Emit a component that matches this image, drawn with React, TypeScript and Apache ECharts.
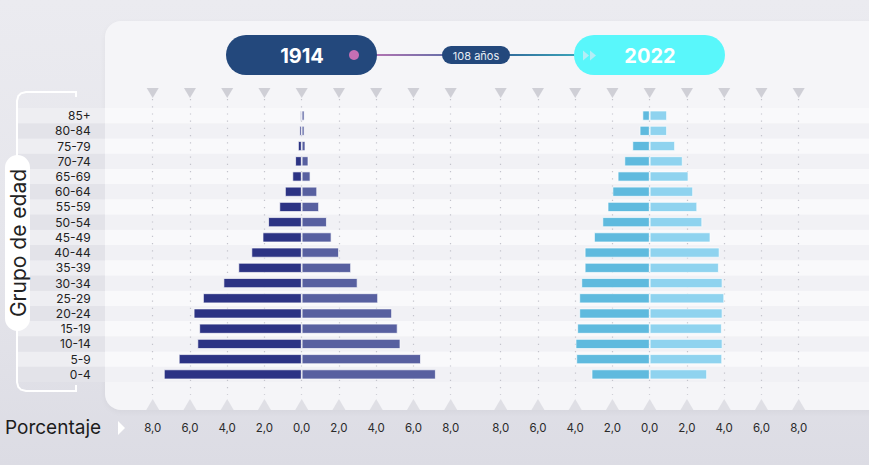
import React, { useEffect, useRef } from "react";
import * as echarts from "echarts";

const categories = ["0-4","5-9","10-14","15-19","20-24","25-29","30-34","35-39","40-44","45-49","50-54","55-59","60-64","65-69","70-74","75-79","80-84","85+"];
const left1914 = [7.4, 6.6, 5.6, 5.5, 5.8, 5.3, 4.2, 3.4, 2.7, 2.1, 1.8, 1.2, 0.9, 0.5, 0.35, 0.2, 0.12, 0.08];
const right1914 = [7.2, 6.4, 5.3, 5.15, 4.85, 4.1, 3.0, 2.65, 2.0, 1.6, 1.35, 0.93, 0.83, 0.47, 0.36, 0.2, 0.15, 0.15];
const left2022 = [3.12, 3.94, 3.98, 3.89, 3.78, 3.78, 3.67, 3.49, 3.49, 2.99, 2.54, 2.26, 2.0, 1.72, 1.36, 0.93, 0.54, 0.39];
const right2022 = [3.08, 3.89, 3.91, 3.87, 3.91, 4.0, 3.91, 3.71, 3.75, 3.26, 2.82, 2.55, 2.33, 2.08, 1.77, 1.36, 0.93, 0.93];
const xTicks = [-8, -6, -4, -2, 0, 2, 4, 6, 8];
const yearA = "1914";
const yearB = "2022";
const gapLabel = "108 años";
const yTitle = "Grupo de edad";
const xTitle = "Porcentaje";

const FONT = 'Inter, "Open Sans", sans-serif';

export default function App() {
  const ref = useRef<HTMLDivElement>(null);
  useEffect(() => {
    if (!ref.current) return;
    const chart = echarts.init(ref.current, undefined, { renderer: "svg" });
    const fmt = (v: number) => Math.abs(v).toFixed(1).replace(".", ",");
    const barGrids = [
      { left: 152.7, width: 298, top: 108, height: 274 },
      { left: 500.7, width: 298, top: 108, height: 274 },
    ];
    const lineGrids = [
      { left: 152.7, width: 298, top: 99, height: 296 },
      { left: 500.7, width: 298, top: 99, height: 296 },
    ];
    const stripeGrids = [
      { left: 105, width: 764, top: 108, height: 274 },
      { left: 18, width: 87, top: 108, height: 274 },
    ];
    const grids = [...barGrids, ...lineGrids, ...stripeGrids];
    const xAxis: any[] = [];
    const yAxis: any[] = [];
    for (let i = 0; i < 2; i++) {
      xAxis.push({ gridIndex: i, type: "value", min: -8, max: 8, interval: 2, show: false });
      yAxis.push({
        gridIndex: i, type: "category", data: categories,
        axisLine: { show: false }, axisTick: { show: false }, splitLine: { show: false },
        axisLabel: i === 0 ? { show: true, interval: 0, margin: 62, fontSize: 12, lineHeight: 13, color: "#222", fontFamily: FONT } : { show: false },
      });
    }
    for (let i = 2; i < 4; i++) {
      xAxis.push({
        gridIndex: i, type: "value", min: -8, max: 8, interval: 2, z: 1,
        axisLine: { show: false }, axisTick: { show: false },
        splitLine: { show: true, lineStyle: { color: "#c4c4cc", width: 1.2, type: [1.2, 6] } },
        axisLabel: { show: true, margin: 27, fontSize: 11.5, color: "#2a2a2a", fontFamily: FONT, formatter: fmt },
      });
      yAxis.push({ gridIndex: i, type: "value", min: 0, max: 1, show: false });
    }
    const stripeColors = [["#f1f1f5", "#f9f9fb"], ["#e3e3e9", "#eeeef2"]];
    for (let i = 4; i < 6; i++) {
      xAxis.push({ gridIndex: i, type: "value", min: 0, max: 1, show: false });
      yAxis.push({
        gridIndex: i, type: "category", data: categories, z: 0,
        axisLine: { show: false }, axisTick: { show: false, interval: 0 }, axisLabel: { show: false, interval: 0 }, splitLine: { show: false },
        splitArea: { show: true, interval: 0, areaStyle: { color: stripeColors[i - 4] } },
      });
    }
    const barBase = { type: "bar", barWidth: 10, silent: true, itemStyle: { borderColor: "rgba(255,255,255,0.85)", borderWidth: 0.8 } };
    const series: any[] = [
      { ...barBase, name: yearA + " H", xAxisIndex: 0, yAxisIndex: 0, stack: "a", data: left1914.map((v) => -v), itemStyle: { ...barBase.itemStyle, color: "#2c3384" } },
      { ...barBase, name: yearA + " M", xAxisIndex: 0, yAxisIndex: 0, stack: "a", data: right1914, itemStyle: { ...barBase.itemStyle, color: "#5860a0" } },
      { ...barBase, name: yearB + " H", xAxisIndex: 1, yAxisIndex: 1, stack: "b", data: left2022.map((v) => -v), itemStyle: { ...barBase.itemStyle, color: "#5fbade" } },
      { ...barBase, name: yearB + " M", xAxisIndex: 1, yAxisIndex: 1, stack: "b", data: right2022, itemStyle: { ...barBase.itemStyle, color: "#8fd3ef" } },
    ];
    for (let g = 2; g < 4; g++) {
      series.push({
        type: "scatter", xAxisIndex: g, yAxisIndex: g, silent: true, clip: false, z: 3,
        symbol: "triangle", symbolRotate: 180, symbolSize: [12, 10], symbolOffset: [0, -6],
        itemStyle: { color: "#c6c6cd" },
        data: xTicks.map((t) => [t, 1]),
      });
      series.push({
        type: "scatter", xAxisIndex: g, yAxisIndex: g, silent: true, clip: false, z: 3,
        symbol: "triangle", symbolSize: [13, 11], symbolOffset: [0, 9.5],
        itemStyle: { color: "#d9d9e0" },
        data: xTicks.map((t) => [t, 0]),
      });
    }
    const graphic: any[] = [
      { type: "polyline", shape: { points: [[76, 97], [76, 92], [26, 92], [21, 93.3], [18.3, 96], [17, 101], [17, 160]] }, style: { stroke: "#ffffff", lineWidth: 2, fill: null } },
      { type: "polyline", shape: { points: [[17, 325], [17, 382], [18.3, 387], [21, 389.7], [26, 391], [76, 391], [76, 385]] }, style: { stroke: "#ffffff", lineWidth: 2, fill: null } },
      { type: "rect", shape: { x: 5, y: 155, width: 25, height: 176, r: 12.5 }, style: { fill: "#ffffff" } },
      { type: "text", x: 18, y: 243, rotation: Math.PI / 2, style: { text: yTitle, fontSize: 21, fontFamily: FONT, fill: "#222", align: "center", verticalAlign: "middle" } },
      { type: "text", x: 5, y: 427, style: { text: xTitle, fontSize: 19, fontFamily: FONT, fill: "#1c1c1c", align: "left", verticalAlign: "middle" } },
      { type: "polygon", shape: { points: [[118, 421], [125, 428], [118, 435]] }, style: { fill: "#ffffff" } },
      { type: "rect", shape: { x: 354, y: 54, width: 222, height: 2 }, style: { fill: new echarts.graphic.LinearGradient(0, 0, 1, 0, [
        { offset: 0, color: "#c874b4" }, { offset: 0.4, color: "#6b6fa9" }, { offset: 0.6, color: "#2f5d93" }, { offset: 1, color: "#3ba3b9" },
      ]) } },
      { type: "rect", shape: { x: 226, y: 35, width: 151, height: 40, r: 20 }, style: { fill: "#23487c" } },
      { type: "text", x: 302, y: 56, style: { text: yearA, fontSize: 20, fontWeight: "bold", fontFamily: FONT, fill: "#ffffff", align: "center", verticalAlign: "middle" } },
      { type: "circle", shape: { cx: 354, cy: 55, r: 5 }, style: { fill: "#c46fb4" } },
      { type: "rect", shape: { x: 442, y: 46, width: 68, height: 18, r: 9 }, style: { fill: "#23487c" } },
      { type: "text", x: 476, y: 55.5, style: { text: gapLabel, fontSize: 11, fontFamily: FONT, fill: "#e6edf5", align: "center", verticalAlign: "middle" } },
      { type: "rect", shape: { x: 574, y: 35, width: 151, height: 40, r: 20 }, style: { fill: "#59f7fb" } },
      { type: "polygon", shape: { points: [[583, 50.5], [589, 55.5], [583, 60.5]] }, style: { fill: "#b4eef6" } },
      { type: "polygon", shape: { points: [[590, 50.5], [596, 55.5], [590, 60.5]] }, style: { fill: "#b4eef6" } },
      { type: "text", x: 650, y: 56, style: { text: yearB, fontSize: 20, fontWeight: "bold", fontFamily: FONT, fill: "#ffffff", align: "center", verticalAlign: "middle" } },
    ].map((e) => ({ ...e, silent: true, z: 10 }));
    chart.setOption({
      animation: false,
      textStyle: { fontFamily: FONT },
      grid: grids.map((g) => ({ ...g, containLabel: false })),
      xAxis, yAxis, series, graphic,
    });
    return () => chart.dispose();
  }, []);
  return (
    <div style={{ position: "fixed", left: 0, top: 0, width: 869, height: 465, overflow: "hidden", background: "linear-gradient(180deg, #ebebf0 0%, #e5e5eb 55%, #dcdce4 100%)" }}>
      <div style={{ position: "absolute", left: 105, top: 21, width: 800, height: 389, borderRadius: 16, background: "#f5f5f8", boxShadow: "0 2px 6px rgba(0,0,0,0.04)" }} />
      <div ref={ref} style={{ position: "absolute", left: 0, top: 0, width: 869, height: 465 }} />
    </div>
  );
}
